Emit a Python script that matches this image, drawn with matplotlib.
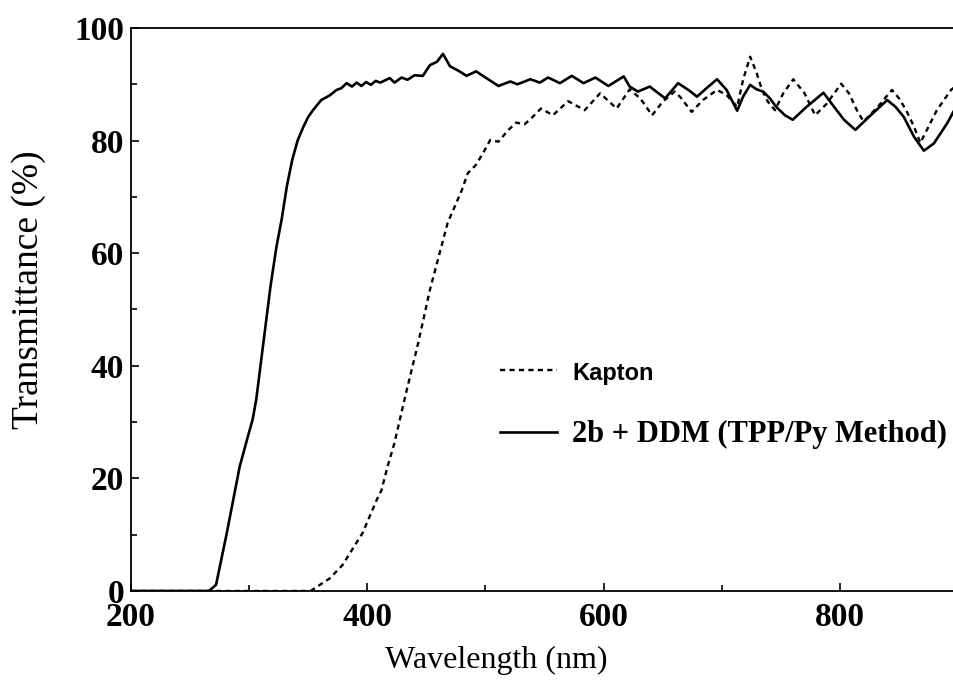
import matplotlib
matplotlib.use('Agg')
import matplotlib.pyplot as plt
from matplotlib.ticker import MultipleLocator

kapton_wl = [200, 352, 368, 379, 396, 408, 412, 417, 423, 432, 443, 453, 468, 480,
             485, 492, 498, 504, 511, 519, 526, 533, 538, 547, 557, 570, 584, 597,
             611, 622, 631, 641, 650, 660, 665, 674.5, 684, 696, 704, 713, 718, 724, 729.5,
             734, 739, 745, 752, 760.5, 770, 779, 789, 801, 807.6, 815, 820, 832, 844,
             850, 856, 862.6, 868, 875, 882, 894, 897]
kapton_t = [0, 0, 2.2, 4.6, 10.3, 16.2, 17.9, 22.0, 26.3, 34.5, 44.0, 53.5, 65.4, 71.2,
            74.2, 75.7, 77.8, 80.1, 79.8, 81.8, 83.2, 82.9, 83.8, 85.7, 84.5, 87.0, 85.4, 88.4,
            85.7, 89.1, 87.5, 84.5, 86.9, 88.7, 87.7, 85.1, 87.2, 89.0, 88.1, 86.0, 90.8, 94.9, 92.0,
            89.0, 86.9, 85.4, 88.4, 90.9, 88.4, 84.5, 86.6, 90.1, 88.4, 85.1, 83.4, 86.0, 89.0,
            87.5, 85.4, 82.5, 79.6, 82.5, 85.4, 89.0, 89.5]

ddm_wl = [200, 266, 272, 281, 292, 299, 303, 306, 309, 312, 318, 323, 327.5, 332, 336.5,
          341, 346, 350, 354, 361, 368, 374, 378, 382.5, 387, 391, 395, 399, 403, 407,
          411, 419, 423, 429, 434, 440, 447, 453, 459, 464, 470, 478, 484, 492, 500,
          511, 521, 527, 538, 546, 553, 563, 573, 583, 593, 604, 617, 622, 629, 639,
          652, 663, 671.7, 679, 687, 696, 704, 713, 718, 724, 729.5, 735, 740.7, 746,
          753.4, 760, 771.8, 786, 795, 803.4, 813, 826, 840, 847, 854, 862.6, 871,
          879.5, 890.8, 897]
ddm_t = [0, 0, 1.1, 10.2, 22.1, 27.5, 30.5, 34.0, 39.0, 44.0, 54.0, 61.0, 66.0, 72.0, 76.6,
         80.0, 82.5, 84.2, 85.4, 87.2, 88.0, 89.0, 89.3, 90.2, 89.6, 90.3, 89.7, 90.4, 89.9, 90.6,
         90.3, 91.1, 90.3, 91.2, 90.8, 91.6, 91.5, 93.4, 94.0, 95.4, 93.2, 92.3, 91.5, 92.3, 91.2,
         89.7, 90.5, 90.0, 90.9, 90.3, 91.2, 90.2, 91.5, 90.2, 91.2, 89.7, 91.4, 89.6, 88.7, 89.6,
         87.5, 90.2, 89.0, 87.8, 89.3, 90.9, 89.0, 85.3, 87.8, 89.9, 89.1, 88.7, 87.5, 86.0,
         84.5, 83.7, 86.0, 88.5, 86.0, 83.7, 81.9, 84.5, 87.2, 86.0, 84.2, 80.7, 78.2,
         79.5, 83.1, 85.5]

labels = ['Kapton', '2b + DDM (TPP/Py Method)']

fig = plt.figure(figsize=(9.54, 6.81), dpi=100)
ax = fig.add_axes([0.1373, 0.1322, 0.8627, 0.8267])

ax.plot(kapton_wl, kapton_t, color='black', lw=1.7, linestyle=(0, (2.2, 1.8)), label=labels[0])
ax.plot(ddm_wl, ddm_t, color='black', lw=1.9, label=labels[1])

ax.set_xlim(200, 896.5)
ax.set_ylim(0, 100)

ax.xaxis.set_major_locator(MultipleLocator(200))
ax.xaxis.set_minor_locator(MultipleLocator(100))
ax.yaxis.set_major_locator(MultipleLocator(20))
ax.yaxis.set_minor_locator(MultipleLocator(10))
ax.tick_params(which='both', direction='in', top=False, right=False, width=1.2)
ax.tick_params(which='major', length=6, pad=5)
ax.tick_params(which='minor', length=4)
ax.tick_params(axis='x', pad=8)

for s in ['left', 'top', 'bottom']:
    ax.spines[s].set_linewidth(1.3)
ax.spines['right'].set_visible(False)

for lab in ax.get_xticklabels() + ax.get_yticklabels():
    lab.set_fontfamily('Liberation Serif')
    lab.set_fontweight('bold')
    lab.set_fontsize(24)

ax.set_xlabel('Wavelength (nm)', family='Liberation Serif', fontsize=23)
ax.set_ylabel('Transmittance (%)', family='Liberation Serif', fontsize=27)
ax.xaxis.set_label_coords(0.4435, -0.098)
ax.yaxis.set_label_coords(-0.103, 0.535)

leg = ax.legend(loc='upper left', bbox_to_anchor=(0.4484, 0.412), frameon=False,
                prop={'family': 'Liberation Serif', 'weight': 'bold', 'size': 22},
                handlelength=1.86, handletextpad=0.5, labelspacing=1.14,
                borderpad=0, borderaxespad=0)
t0 = leg.get_texts()[0]
t0.set_fontfamily('Liberation Sans')
t0.set_fontweight('bold')
t0.set_fontsize(17)

fig.savefig('out.png', dpi=100)
